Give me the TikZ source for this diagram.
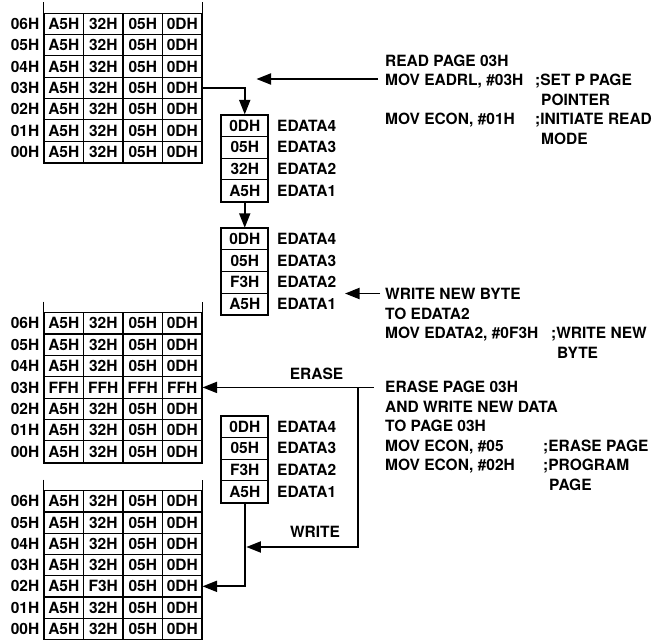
\documentclass[tikz,border=0pt]{standalone}
\usepackage{fontspec}
\setmainfont{TeX Gyre Heros}
\usetikzlibrary{arrows.meta}
\begin{document}
\begin{tikzpicture}[x=1pt,y=-1pt,
  every node/.style={font=\fontsize{15.5}{18}\selectfont\bfseries, inner sep=0pt},
  cell/.style={draw, line width=1.1pt, minimum width=39.5pt, minimum height=21.3pt},
  ebox/.style={draw, line width=1.1pt, minimum width=46.5pt, minimum height=21.6pt},
  rowlab/.style={anchor=east},
  elab/.style={anchor=west},
  txt/.style={anchor=base west},
  outer/.style={line width=1.8pt},
  arr/.style={line width=1.8pt, -{Triangle[length=14.5pt,width=11pt]}},
  ln/.style={line width=1.8pt}]
\useasboundingbox (0,0) rectangle (659,640);

% ---------- table A (top) ----------
\foreach \r/\lab/\a/\b/\c/\d in {0/06H/A5H/32H/05H/0DH,1/05H/A5H/32H/05H/0DH,2/04H/A5H/32H/05H/0DH,3/03H/A5H/32H/05H/0DH,4/02H/A5H/32H/05H/0DH,5/01H/A5H/32H/05H/0DH,6/00H/A5H/32H/05H/0DH}{
  \pgfmathsetmacro\yc{13.3+21.3*(\r+0.5)}
  \node[rowlab] (A-\r-l) at (39.5,\yc) {\lab};
  \node[cell] (A-\r-1) at (63.75,\yc) {\a};
  \node[cell] (A-\r-2) at (103.25,\yc) {\b};
  \node[cell] (A-\r-3) at (142.75,\yc) {\c};
  \node[cell] (A-\r-4) at (182.25,\yc) {\d};
}
\draw[outer] ([yshift=10.3pt]A-0-1.north west) -- (A-6-1.south west) -- (A-6-4.south east) -- ([yshift=10.3pt]A-0-4.north east);

% ---------- table B (middle) ----------
\foreach \r/\lab/\a/\b/\c/\d in {0/06H/A5H/32H/05H/0DH,1/05H/A5H/32H/05H/0DH,2/04H/A5H/32H/05H/0DH,3/03H/FFH/FFH/FFH/FFH,4/02H/A5H/32H/05H/0DH,5/01H/A5H/32H/05H/0DH,6/00H/A5H/32H/05H/0DH}{
  \pgfmathsetmacro\yc{312.7+21.35*(\r+0.5)}
  \node[rowlab] (B-\r-l) at (39.5,\yc) {\lab};
  \node[cell] (B-\r-1) at (63.75,\yc) {\a};
  \node[cell] (B-\r-2) at (103.25,\yc) {\b};
  \node[cell] (B-\r-3) at (142.75,\yc) {\c};
  \node[cell] (B-\r-4) at (182.25,\yc) {\d};
}
\draw[outer] ([yshift=10.5pt]B-0-1.north west) -- (B-6-1.south west) -- (B-6-4.south east) -- ([yshift=10.5pt]B-0-4.north east);

% ---------- table C (bottom) ----------
\foreach \r/\lab/\a/\b/\c/\d in {0/06H/A5H/32H/05H/0DH,1/05H/A5H/32H/05H/0DH,2/04H/A5H/32H/05H/0DH,3/03H/A5H/32H/05H/0DH,4/02H/A5H/F3H/05H/0DH,5/01H/A5H/32H/05H/0DH,6/00H/A5H/32H/05H/0DH}{
  \pgfmathsetmacro\yc{490.7+21.25*(\r+0.5)}
  \node[rowlab] (C-\r-l) at (39.5,\yc) {\lab};
  \node[cell] (C-\r-1) at (63.75,\yc) {\a};
  \node[cell] (C-\r-2) at (103.25,\yc) {\b};
  \node[cell] (C-\r-3) at (142.75,\yc) {\c};
  \node[cell] (C-\r-4) at (182.25,\yc) {\d};
}
\draw[outer] ([yshift=10.5pt]C-0-1.north west) -- (C-6-1.south west) -- (C-6-4.south east) -- ([yshift=10.5pt]C-0-4.north east);

% ---------- EDATA boxes ----------
\foreach \bx/\top/\vb in {E1/115/32H,E2/228.3/F3H,E3/416/F3H}{
  \foreach \i/\v/\l in {1/0DH/EDATA4,2/05H/EDATA3,3/\vb/EDATA2,4/A5H/EDATA1}{
    \pgfmathsetmacro\yc{\top+21.6*(\i-0.5)}
    \node[ebox] (\bx-\i) at (244.75,\yc) {\v};
    \node[elab] (\bx-\i-t) at (277,\yc) {\l};
  }
  \draw[outer] (\bx-1.north west) rectangle (\bx-4.south east);
}

% ---------- connectors ----------
\draw[arr] (A-3-4.east) -| (E1-1.north);
\draw[arr] (E1-4.south) -- (E2-1.north);
\coordinate (rdS) at (378,79);
\coordinate (rdE) at (256.5,79);
\draw[arr] (rdS) -- (rdE);
\coordinate (wbS) at (380,293.5);
\coordinate (wbE) at (345,293.5);
\draw[arr] (wbS) -- (wbE);
\path (B-3-4.east) ++(171,0) coordinate (erS);
\path (B-3-4.east) ++(155.7,0) coordinate (erJ);
\coordinate (wrE) at (246.3,547);
\draw[arr] (erS) -- (B-3-4.east);
\draw[arr] (erJ) |- (wrE);
\draw[arr] (E3-4.south) |- (C-4-4.east);
\node (lerase) at (316.5,373.5) {ERASE};
\node (lwrite) at (315,532) {WRITE};

% ---------- text block 1 ----------
\node[txt] (r1) at (385,66) {READ PAGE 03H};
\node[txt] (r2) at (385,85.5) {MOV EADRL, \#03H};
\node[txt] (r2b) at (535,85.5) {;SET P PAGE};
\node[txt] (r3) at (541,105) {POINTER};
\node[txt] (r4) at (385,124.5) {MOV ECON, \#01H};
\node[txt] (r4b) at (535,124.5) {;INITIATE READ};
\node[txt] (r5) at (541,144) {MODE};

% ---------- text block 2 ----------
\node[txt] (w1) at (385,299.5) {WRITE NEW BYTE};
\node[txt] (w2) at (385,319) {TO EDATA2};
\node[txt] (w3) at (385,338.5) {MOV EDATA2, \#0F3H};
\node[txt] (w3b) at (551,338.5) {;WRITE NEW};
\node[txt] (w4) at (557,358) {BYTE};

% ---------- text block 3 ----------
\node[txt] (e1) at (385,392.8) {ERASE PAGE 03H};
\node[txt] (e2) at (385,412.3) {AND WRITE NEW DATA};
\node[txt] (e3) at (385,431.8) {TO PAGE 03H};
\node[txt] (e4) at (385,451.3) {MOV ECON, \#05};
\node[txt] (e4b) at (543,451.3) {;ERASE PAGE};
\node[txt] (e5) at (385,470.8) {MOV ECON, \#02H};
\node[txt] (e5b) at (543,470.8) {;PROGRAM};
\node[txt] (e6) at (549,490.3) {PAGE};
\end{tikzpicture}
\end{document}
